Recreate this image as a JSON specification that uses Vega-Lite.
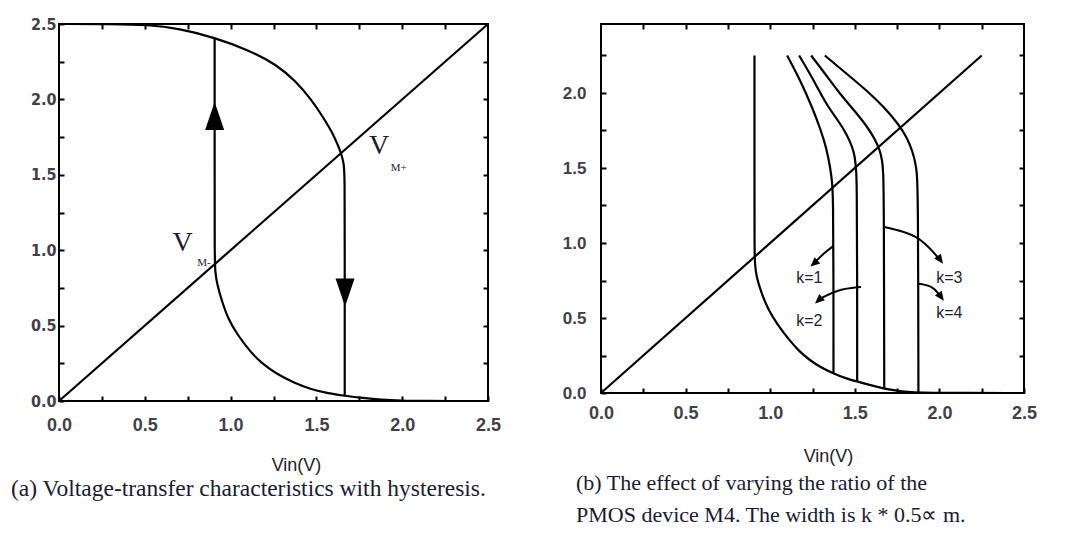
{
  "$schema": "https://vega.github.io/schema/vega-lite/v6.json",
  "autosize": {"type": "pad"},
  "padding": {"left": 10, "top": 15, "right": 0, "bottom": 0},
  "background": "white",
  "spacing": 113,
  "bounds": "flush",
  "config": {
    "view": {"stroke": "black", "strokeWidth": 2},
    "axis": {
      "grid": false, "domain": false, "tickColor": "black", "tickWidth": 2, "tickSize": -5,
      "labelFont": "Liberation Sans", "labelFontWeight": "bold", "labelColor": "#404048", "labelFontSize": 18,
      "labelOverlap": false, "labelFlush": false,
      "titleFont": "Liberation Sans", "titleFontWeight": "normal", "titleFontSize": 18, "titleColor": "#222"
    }
  },
  "datasets": {
    "a": [
      {"s": "diag", "o": 0, "x": 0, "y": 0},
      {"s": "diag", "o": 1, "x": 2.5, "y": 2.5},
      {"s": "upper", "o": 0, "x": 0, "y": 2.5},
      {"s": "upper", "o": 1, "x": 0.3, "y": 2.5},
      {"s": "upper", "o": 2, "x": 0.52, "y": 2.495},
      {"s": "upper", "o": 3, "x": 0.7, "y": 2.47},
      {"s": "upper", "o": 4, "x": 0.907, "y": 2.41},
      {"s": "upper", "o": 5, "x": 1.1, "y": 2.33},
      {"s": "upper", "o": 6, "x": 1.27, "y": 2.23},
      {"s": "upper", "o": 7, "x": 1.38, "y": 2.12},
      {"s": "upper", "o": 8, "x": 1.47, "y": 2.0},
      {"s": "upper", "o": 9, "x": 1.54, "y": 1.88},
      {"s": "upper", "o": 10, "x": 1.593, "y": 1.78},
      {"s": "upper", "o": 11, "x": 1.628, "y": 1.69},
      {"s": "upper", "o": 12, "x": 1.648, "y": 1.63},
      {"s": "upper", "o": 13, "x": 1.66, "y": 1.57},
      {"s": "upper", "o": 14, "x": 1.665, "y": 1.5},
      {"s": "upper", "o": 15, "x": 1.665, "y": 1.0},
      {"s": "upper", "o": 16, "x": 1.665, "y": 0.5},
      {"s": "upper", "o": 17, "x": 1.665, "y": 0.035},
      {"s": "lower", "o": 0, "x": 0.907, "y": 2.41},
      {"s": "lower", "o": 1, "x": 0.907, "y": 1.6},
      {"s": "lower", "o": 2, "x": 0.907, "y": 0.95},
      {"s": "lower", "o": 3, "x": 0.91, "y": 0.86},
      {"s": "lower", "o": 4, "x": 0.92, "y": 0.78},
      {"s": "lower", "o": 5, "x": 0.95, "y": 0.66},
      {"s": "lower", "o": 6, "x": 0.987, "y": 0.54},
      {"s": "lower", "o": 7, "x": 1.04, "y": 0.44},
      {"s": "lower", "o": 8, "x": 1.108, "y": 0.336},
      {"s": "lower", "o": 9, "x": 1.18, "y": 0.25},
      {"s": "lower", "o": 10, "x": 1.27, "y": 0.178},
      {"s": "lower", "o": 11, "x": 1.37, "y": 0.12},
      {"s": "lower", "o": 12, "x": 1.47, "y": 0.077},
      {"s": "lower", "o": 13, "x": 1.57, "y": 0.05},
      {"s": "lower", "o": 14, "x": 1.665, "y": 0.035},
      {"s": "lower", "o": 15, "x": 1.77, "y": 0.02},
      {"s": "lower", "o": 16, "x": 1.875, "y": 0.008},
      {"s": "lower", "o": 17, "x": 2.0, "y": 0.002},
      {"s": "lower", "o": 18, "x": 2.1, "y": 0},
      {"s": "lower", "o": 19, "x": 2.5, "y": 0}
    ],
    "aUp": [{"x": 0.907, "y": 1.89}],
    "aDown": [{"x": 1.667, "y": 0.72}],
    "aV": [{"x": 0.72, "y": 1.05, "t": "V"}, {"x": 1.865, "y": 1.69, "t": "V"}],
    "aSub": [{"x": 0.845, "y": 0.915, "t": "M-"}, {"x": 1.98, "y": 1.545, "t": "M+"}],
    "b": [
      {"s": "diag", "o": 0, "x": 0, "y": 0},
      {"s": "diag", "o": 1, "x": 2.25, "y": 2.25},
      {"s": "base", "o": 0, "x": 0.907, "y": 2.25},
      {"s": "base", "o": 1, "x": 0.907, "y": 1.5},
      {"s": "base", "o": 2, "x": 0.907, "y": 0.95},
      {"s": "base", "o": 3, "x": 0.91, "y": 0.86},
      {"s": "base", "o": 4, "x": 0.917, "y": 0.78},
      {"s": "base", "o": 5, "x": 0.95, "y": 0.66},
      {"s": "base", "o": 6, "x": 0.988, "y": 0.557},
      {"s": "base", "o": 7, "x": 1.04, "y": 0.46},
      {"s": "base", "o": 8, "x": 1.11, "y": 0.356},
      {"s": "base", "o": 9, "x": 1.17, "y": 0.28},
      {"s": "base", "o": 10, "x": 1.232, "y": 0.22},
      {"s": "base", "o": 11, "x": 1.3, "y": 0.17},
      {"s": "base", "o": 12, "x": 1.374, "y": 0.13},
      {"s": "base", "o": 13, "x": 1.44, "y": 0.1},
      {"s": "base", "o": 14, "x": 1.516, "y": 0.076},
      {"s": "base", "o": 15, "x": 1.6, "y": 0.05},
      {"s": "base", "o": 16, "x": 1.68, "y": 0.027},
      {"s": "base", "o": 17, "x": 1.78, "y": 0.01},
      {"s": "base", "o": 18, "x": 1.88, "y": 0.0},
      {"s": "base", "o": 19, "x": 2.5, "y": 0.0},
      {"s": "k1", "o": 0, "x": 1.10, "y": 2.25},
      {"s": "k1", "o": 1, "x": 1.18, "y": 2.08},
      {"s": "k1", "o": 2, "x": 1.25, "y": 1.9},
      {"s": "k1", "o": 3, "x": 1.30, "y": 1.75},
      {"s": "k1", "o": 4, "x": 1.333, "y": 1.63},
      {"s": "k1", "o": 5, "x": 1.355, "y": 1.5},
      {"s": "k1", "o": 6, "x": 1.366, "y": 1.41},
      {"s": "k1", "o": 7, "x": 1.372, "y": 1.3},
      {"s": "k1", "o": 8, "x": 1.374, "y": 0.8},
      {"s": "k1", "o": 9, "x": 1.374, "y": 0.13},
      {"s": "k2", "o": 0, "x": 1.171, "y": 2.25},
      {"s": "k2", "o": 1, "x": 1.25, "y": 2.1},
      {"s": "k2", "o": 2, "x": 1.333, "y": 1.92},
      {"s": "k2", "o": 3, "x": 1.40, "y": 1.82},
      {"s": "k2", "o": 4, "x": 1.455, "y": 1.72},
      {"s": "k2", "o": 5, "x": 1.485, "y": 1.64},
      {"s": "k2", "o": 6, "x": 1.50, "y": 1.58},
      {"s": "k2", "o": 7, "x": 1.508, "y": 1.49},
      {"s": "k2", "o": 8, "x": 1.512, "y": 1.4},
      {"s": "k2", "o": 9, "x": 1.514, "y": 0.8},
      {"s": "k2", "o": 10, "x": 1.514, "y": 0.076},
      {"s": "k3", "o": 0, "x": 1.242, "y": 2.25},
      {"s": "k3", "o": 1, "x": 1.33, "y": 2.12},
      {"s": "k3", "o": 2, "x": 1.415, "y": 1.99},
      {"s": "k3", "o": 3, "x": 1.50, "y": 1.88},
      {"s": "k3", "o": 4, "x": 1.577, "y": 1.77},
      {"s": "k3", "o": 5, "x": 1.62, "y": 1.69},
      {"s": "k3", "o": 6, "x": 1.648, "y": 1.62},
      {"s": "k3", "o": 7, "x": 1.662, "y": 1.55},
      {"s": "k3", "o": 8, "x": 1.668, "y": 1.48},
      {"s": "k3", "o": 9, "x": 1.672, "y": 1.3},
      {"s": "k3", "o": 10, "x": 1.674, "y": 0.027},
      {"s": "k4", "o": 0, "x": 1.323, "y": 2.25},
      {"s": "k4", "o": 1, "x": 1.45, "y": 2.13},
      {"s": "k4", "o": 2, "x": 1.577, "y": 2.01},
      {"s": "k4", "o": 3, "x": 1.67, "y": 1.91},
      {"s": "k4", "o": 4, "x": 1.76, "y": 1.79},
      {"s": "k4", "o": 5, "x": 1.81, "y": 1.7},
      {"s": "k4", "o": 6, "x": 1.841, "y": 1.61},
      {"s": "k4", "o": 7, "x": 1.857, "y": 1.54},
      {"s": "k4", "o": 8, "x": 1.866, "y": 1.48},
      {"s": "k4", "o": 9, "x": 1.874, "y": 1.35},
      {"s": "k4", "o": 10, "x": 1.876, "y": 0.0}
    ],
    "bAnn": [
      {"s": "a1", "o": 0, "x": 1.374, "y": 0.98},
      {"s": "a1", "o": 1, "x": 1.32, "y": 0.935},
      {"s": "a1", "o": 2, "x": 1.27, "y": 0.878},
      {"s": "a2", "o": 0, "x": 1.537, "y": 0.707},
      {"s": "a2", "o": 1, "x": 1.399, "y": 0.691},
      {"s": "a2", "o": 2, "x": 1.3, "y": 0.63},
      {"s": "a3", "o": 0, "x": 1.674, "y": 1.107},
      {"s": "a3", "o": 1, "x": 1.872, "y": 1.058},
      {"s": "a3", "o": 2, "x": 1.99, "y": 0.905},
      {"s": "a4", "o": 0, "x": 1.876, "y": 0.729},
      {"s": "a4", "o": 1, "x": 1.96, "y": 0.713},
      {"s": "a4", "o": 2, "x": 2.0, "y": 0.655}
    ],
    "bHeadL": [{"x": 1.261, "y": 0.866}, {"x": 1.288, "y": 0.62}],
    "bHeadR": [{"x": 2.003, "y": 0.89}, {"x": 2.008, "y": 0.643}],
    "bLab": [
      {"x": 1.231, "y": 0.769, "t": "k=1"},
      {"x": 1.231, "y": 0.48, "t": "k=2"},
      {"x": 2.059, "y": 0.769, "t": "k=3"},
      {"x": 2.059, "y": 0.535, "t": "k=4"}
    ]
  },
  "hconcat": [
    {
      "width": 429,
      "height": 377,
      "title": {
        "text": "(a) Voltage-transfer characteristics with hysteresis.",
        "orient": "bottom", "anchor": "start", "frame": "group", "dx": -48, "offset": 3,
        "font": "Liberation Serif", "fontSize": 23.5, "fontWeight": "normal", "color": "#1a1a33"
      },
      "layer": [
        {
          "data": {"name": "a"},
          "mark": {"type": "line", "color": "black", "strokeWidth": 2.2, "interpolate": "basis"},
          "encoding": {
            "x": {"field": "x", "type": "quantitative", "scale": {"domain": [0, 2.5], "nice": false, "zero": false},
              "axis": {"orient": "bottom", "values": [0, 0.25, 0.5, 0.75, 1, 1.25, 1.5, 1.75, 2, 2.25, 2.5],
                "labelExpr": "(datum.value*4)%2==0 ? format(datum.value,'.1f') : ''",
                "labelPadding": 20, "title": "Vin(V)", "titleX": 237, "titleY": 64, "titleBaseline": "middle"}},
            "y": {"field": "y", "type": "quantitative", "scale": {"domain": [0, 2.5], "nice": false, "zero": false},
              "axis": {"orient": "left", "values": [0, 0.25, 0.5, 0.75, 1, 1.25, 1.5, 1.75, 2, 2.25, 2.5],
                "labelExpr": "(datum.value*4)%2==0 ? format(datum.value,'.1f') : ''",
                "labelPadding": 8, "labelFont": "DejaVu Sans Condensed, Liberation Sans", "labelFontSize": 16, "title": null}},
            "detail": {"field": "s"},
            "order": {"field": "o"}
          }
        },
        {
          "data": {"name": "aUp"},
          "mark": {"type": "point", "shape": "M0,-1L0.68,1L-0.68,1Z", "size": 784, "filled": true, "color": "black", "opacity": 1},
          "encoding": {
            "x": {"field": "x", "type": "quantitative",
              "axis": {"orient": "top", "values": [0.25, 0.5, 0.75, 1, 1.25, 1.5, 1.75, 2, 2.25], "labels": false, "title": null}},
            "y": {"field": "y", "type": "quantitative",
              "axis": {"orient": "right", "values": [0.25, 0.5, 0.75, 1, 1.25, 1.5, 1.75, 2, 2.25], "labels": false, "title": null}}
          }
        },
        {
          "data": {"name": "aDown"},
          "mark": {"type": "point", "shape": "M0,1L0.68,-1L-0.68,-1Z", "size": 784, "filled": true, "color": "black", "opacity": 1},
          "encoding": {
            "x": {"field": "x", "type": "quantitative", "axis": null},
            "y": {"field": "y", "type": "quantitative", "axis": null}
          }
        },
        {
          "data": {"name": "aV"},
          "mark": {"type": "text", "font": "Liberation Serif", "fontSize": 28, "color": "#1a1a33"},
          "encoding": {
            "x": {"field": "x", "type": "quantitative", "axis": null},
            "y": {"field": "y", "type": "quantitative", "axis": null},
            "text": {"field": "t"}
          }
        },
        {
          "data": {"name": "aSub"},
          "mark": {"type": "text", "font": "Liberation Serif", "fontSize": 11, "color": "#1a1a33"},
          "encoding": {
            "x": {"field": "x", "type": "quantitative", "axis": null},
            "y": {"field": "y", "type": "quantitative", "axis": null},
            "text": {"field": "t"}
          }
        }
      ]
    },
    {
      "width": 423,
      "height": 369,
      "title": {
        "text": ["(b) The effect of varying the ratio of the", "PMOS device M4. The width is k * 0.5∝ m."],
        "orient": "bottom", "anchor": "start", "frame": "group", "dx": -25, "offset": 8, "lineHeight": 32,
        "font": "Liberation Serif", "fontSize": 22, "fontWeight": "normal", "color": "#1a1a33"
      },
      "layer": [
        {
          "data": {"name": "b"},
          "mark": {"type": "line", "color": "black", "strokeWidth": 2.2, "interpolate": "basis"},
          "encoding": {
            "x": {"field": "x", "type": "quantitative", "scale": {"domain": [0, 2.5], "nice": false, "zero": false},
              "axis": {"orient": "bottom", "values": [0, 0.25, 0.5, 0.75, 1, 1.25, 1.5, 1.75, 2, 2.25, 2.5],
                "labelExpr": "(datum.value*4)%2==0 ? format(datum.value,'.1f') : ''",
                "labelPadding": 16, "title": "Vin(V)", "titleX": 227, "titleY": 63, "titleBaseline": "middle"}},
            "y": {"field": "y", "type": "quantitative", "scale": {"domain": [0, 2.46], "nice": false, "zero": false},
              "axis": {"orient": "left", "values": [0, 0.25, 0.5, 0.75, 1, 1.25, 1.5, 1.75, 2, 2.25],
                "labelExpr": "(datum.value*4)%2==0 ? format(datum.value,'.1f') : ''",
                "labelPadding": 20, "labelFontSize": 17, "title": null}},
            "detail": {"field": "s"},
            "order": {"field": "o"}
          }
        },
        {
          "data": {"name": "bAnn"},
          "mark": {"type": "line", "color": "black", "strokeWidth": 2, "interpolate": "basis"},
          "encoding": {
            "x": {"field": "x", "type": "quantitative",
              "axis": {"orient": "top", "values": [0.25, 0.5, 0.75, 1, 1.25, 1.5, 1.75, 2, 2.25], "labels": false, "title": null}},
            "y": {"field": "y", "type": "quantitative",
              "axis": {"orient": "right", "values": [0.25, 0.5, 0.75, 1, 1.25, 1.5, 1.75, 2, 2.25], "labels": false, "title": null}},
            "detail": {"field": "s"},
            "order": {"field": "o"}
          }
        },
        {
          "data": {"name": "bHeadL"},
          "mark": {"type": "point", "shape": "M0,-1L0.8,0.8L-0.8,0.8Z", "size": 110, "angle": 228, "filled": true, "color": "black", "opacity": 1},
          "encoding": {
            "x": {"field": "x", "type": "quantitative", "axis": null},
            "y": {"field": "y", "type": "quantitative", "axis": null}
          }
        },
        {
          "data": {"name": "bHeadR"},
          "mark": {"type": "point", "shape": "M0,-1L0.8,0.8L-0.8,0.8Z", "size": 110, "angle": 144, "filled": true, "color": "black", "opacity": 1},
          "encoding": {
            "x": {"field": "x", "type": "quantitative", "axis": null},
            "y": {"field": "y", "type": "quantitative", "axis": null}
          }
        },
        {
          "data": {"name": "bLab"},
          "mark": {"type": "text", "font": "Liberation Sans", "fontSize": 16, "color": "#223"},
          "encoding": {
            "x": {"field": "x", "type": "quantitative", "axis": null},
            "y": {"field": "y", "type": "quantitative", "axis": null},
            "text": {"field": "t"}
          }
        }
      ]
    }
  ]
}
